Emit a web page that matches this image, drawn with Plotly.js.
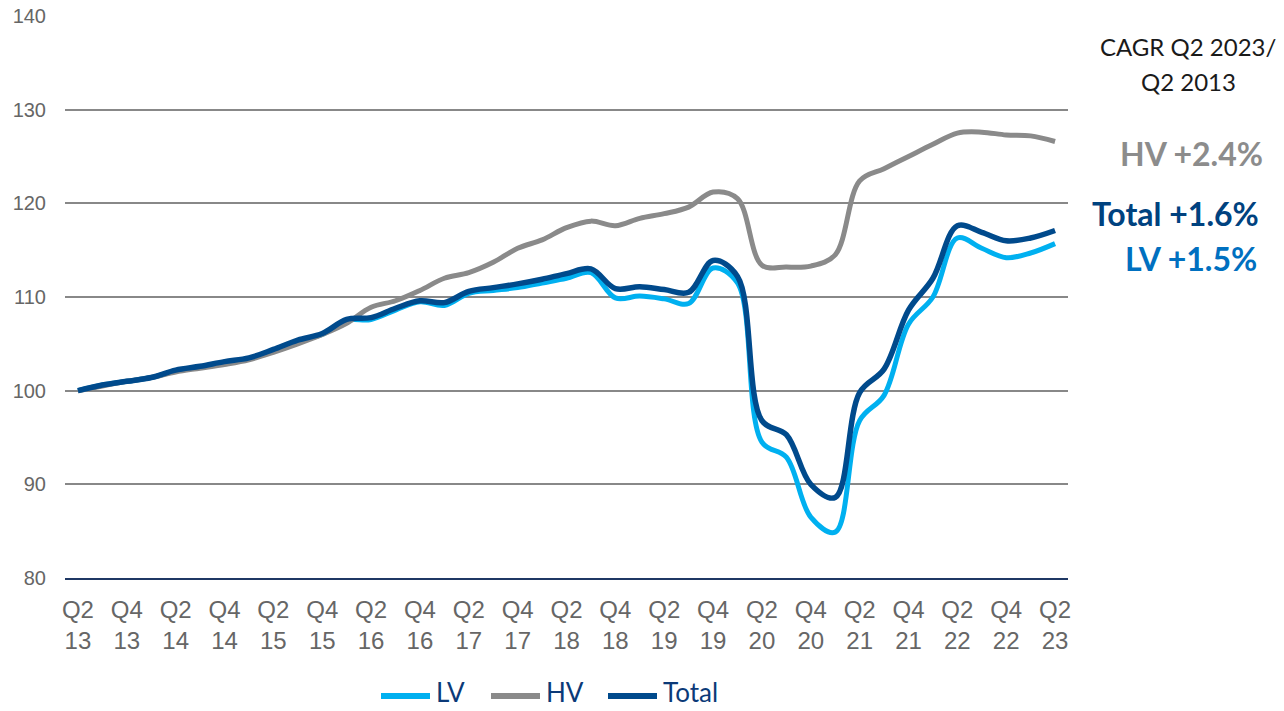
<!DOCTYPE html>
<html>
<head>
<meta charset="utf-8">
<script src="https://cdn.plot.ly/plotly-3.0.1.min.js"></script>
<style>html,body{margin:0;padding:0;background:#fff;}#chart{width:1284px;height:711px;}</style>
</head>
<body>
<div id="chart"></div>
<script>
var quarters = ["Q2 13","Q3 13","Q4 13","Q1 14","Q2 14","Q3 14","Q4 14","Q1 15","Q2 15","Q3 15","Q4 15","Q1 16","Q2 16","Q3 16","Q4 16","Q1 17","Q2 17","Q3 17","Q4 17","Q1 18","Q2 18","Q3 18","Q4 18","Q1 19","Q2 19","Q3 19","Q4 19","Q1 20","Q2 20","Q3 20","Q4 20","Q1 21","Q2 21","Q3 21","Q4 21","Q1 22","Q2 22","Q3 22","Q4 22","Q1 23","Q2 23"];
var tickQuarters = ["Q2 13","Q4 13","Q2 14","Q4 14","Q2 15","Q4 15","Q2 16","Q4 16","Q2 17","Q4 17","Q2 18","Q4 18","Q2 19","Q4 19","Q2 20","Q4 20","Q2 21","Q4 21","Q2 22","Q4 22","Q2 23"];
var tickLabels = ["Q2<br>13","Q4<br>13","Q2<br>14","Q4<br>14","Q2<br>15","Q4<br>15","Q2<br>16","Q4<br>16","Q2<br>17","Q4<br>17","Q2<br>18","Q4<br>18","Q2<br>19","Q4<br>19","Q2<br>20","Q4<br>20","Q2<br>21","Q4<br>21","Q2<br>22","Q4<br>22","Q2<br>23"];
var lv = [100.0,100.6,101.0,101.4,102.1,102.5,103.0,103.4,104.3,105.3,106.0,107.5,107.6,108.6,109.5,109.1,110.4,110.7,111.0,111.5,112.0,112.6,109.9,110.1,109.8,109.3,113.1,111.5,94.5,92.9,86.5,84.9,96.8,99.5,107.1,110.0,116.3,115.2,114.2,114.7,115.7];
var hv = [100.0,100.5,101.0,101.4,102.0,102.4,102.8,103.3,104.1,105.0,106.0,107.2,108.9,109.6,110.7,112.0,112.6,113.7,115.2,116.1,117.4,118.1,117.6,118.4,118.9,119.6,121.2,120.5,113.4,113.2,113.3,114.5,122.4,123.7,125.0,126.3,127.5,127.6,127.3,127.2,126.6];
var total = [100.0,100.6,101.0,101.4,102.2,102.6,103.1,103.5,104.4,105.4,106.1,107.6,107.8,108.8,109.6,109.4,110.6,111.0,111.4,111.9,112.5,113.0,110.9,111.1,110.8,110.5,113.9,112.2,96.8,95.3,90.0,88.6,99.8,102.3,108.6,112.0,117.6,116.9,116.0,116.3,117.1];
var seriesNames = ["LV","HV","Total"];
var seriesColors = ["#00B0F0","#8A8A8A","#004A8C"];
var cagrTitle = ["CAGR Q2 2023/","Q2 2013"];
var cagrLabels = ["HV +2.4%","Total +1.6%","LV +1.5%"];

var L = 65, R = 216, T = 16, B = 133, W = 1284, H = 711;
var pw = W - L - R, ph = H - T - B;
function px2x(px){ return (px - L) / pw; }
function py2y(py){ return (H - B - py) / ph; }

function tr(name, y, color, w){
  return {x: quarters, y: y, name: name, type: 'scatter', mode: 'lines',
    line: {color: color, width: w, shape: 'spline', smoothing: 1}, hoverinfo: 'skip'};
}
var data = [tr(seriesNames[0], lv, seriesColors[0], 5), tr(seriesNames[1], hv, seriesColors[1], 5), tr(seriesNames[2], total, seriesColors[2], 5.5)];

// manual legend (long swatches like the reference)
var legendSwatchX = [378, 488, 605];
var shapes = [], legendAnn = [];
for (var i = 0; i < 3; i++) {
  var x0 = legendSwatchX[i];
  shapes.push({type: 'line', xref: 'paper', yref: 'paper', x0: px2x(x0 + 3), x1: px2x(x0 + 52),
    y0: py2y(696), y1: py2y(696), line: {color: seriesColors[i], width: 6}, layer: 'above'});
  legendAnn.push({xref: 'paper', yref: 'paper', x: px2x(x0 + 57), y: py2y(709), xanchor: 'left', yanchor: 'bottom',
    text: seriesNames[i], showarrow: false, borderpad: 0,
    font: {family: 'Lato, sans-serif', size: 26, color: '#0B3A78'}});
}

var layout = {
  width: W, height: H,
  margin: {l: L, r: R, t: T, b: B, autoexpand: false},
  paper_bgcolor: '#fff', plot_bgcolor: '#fff',
  showlegend: false,
  xaxis: {type: 'category', categoryorder: 'array', categoryarray: quarters,
    range: [-0.53, 40.53], tickmode: 'array', tickvals: tickQuarters, ticktext: tickLabels,
    showgrid: false, zeroline: false, showline: true, linecolor: '#1F3864', linewidth: 2,
    ticks: '', tickfont: {family: 'Liberation Sans, Arial, sans-serif', size: 24, color: '#666666'},
    ticklabelstandoff: 9, fixedrange: true},
  yaxis: {range: [80, 140], tickvals: [80,90,100,110,120,130,140], showgrid: true,
    gridcolor: '#888888', gridwidth: 2, zeroline: false, showline: false, ticks: '',
    tickfont: {family: 'Liberation Sans, Arial, sans-serif', size: 20, color: '#666666'},
    ticklabelstandoff: 18, fixedrange: true},
  shapes: shapes,
  annotations: [
    {xref: 'paper', yref: 'paper', x: px2x(1188), y: py2y(46), xanchor: 'center', yanchor: 'middle',
      text: cagrTitle[0], showarrow: false, font: {family: 'Lato, sans-serif', size: 24, color: '#1a1a1a'}},
    {xref: 'paper', yref: 'paper', x: px2x(1188), y: py2y(82), xanchor: 'center', yanchor: 'middle',
      text: cagrTitle[1], showarrow: false, font: {family: 'Lato, sans-serif', size: 24, color: '#1a1a1a'}},
    {xref: 'paper', yref: 'paper', x: px2x(1265), y: py2y(153), xanchor: 'right', yanchor: 'middle',
      text: '<b>' + cagrLabels[0] + '</b>', showarrow: false, font: {family: 'Lato, sans-serif', size: 32, color: '#8C8C8C'}},
    {xref: 'paper', yref: 'paper', x: px2x(1261), y: py2y(213), xanchor: 'right', yanchor: 'middle',
      text: '<b>' + cagrLabels[1] + '</b>', showarrow: false, font: {family: 'Lato, sans-serif', size: 32, color: '#00427F'}},
    {xref: 'paper', yref: 'paper', x: px2x(1259), y: py2y(258), xanchor: 'right', yanchor: 'middle',
      text: '<b>' + cagrLabels[2] + '</b>', showarrow: false, font: {family: 'Lato, sans-serif', size: 32, color: '#0070C0'}}
  ].concat(legendAnn)
};
Plotly.newPlot('chart', data, layout, {displayModeBar: false, staticPlot: true});
</script>
</body>
</html>
